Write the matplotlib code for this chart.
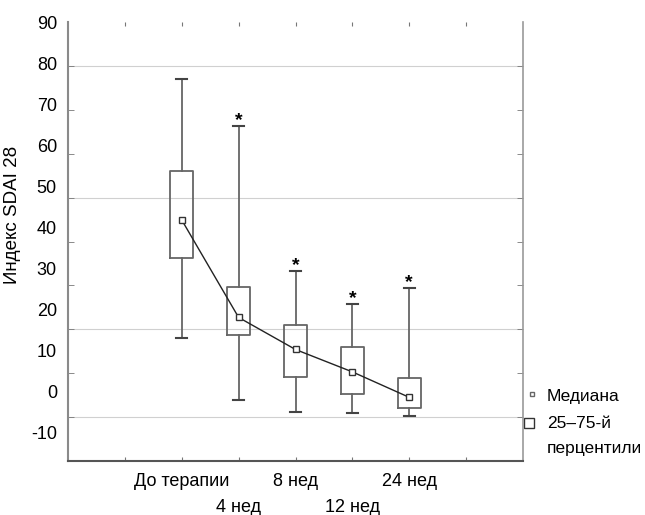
import matplotlib
matplotlib.use('Agg')
import matplotlib.pyplot as plt
import numpy as np

plt.rcParams['font.family'] = ['Liberation Sans', 'DejaVu Sans']

# SDAI 28 per visit
visits  = ['До терапии', '4 нед', '8 нед', '12 нед', '24 нед']
medians = [44.9, 22.7, 15.4, 10.3, 4.5]
q1      = [36.2, 18.7, 9.1, 5.3, 2.0]
q3      = [56.1, 29.7, 21.0, 16.0, 8.8]
wlo     = [18.1, 4.0, 1.2, 1.0, 0.3]
whi     = [77.0, 66.2, 33.3, 25.7, 29.3]
signif  = [False, True, True, True, True]

y_ticks = np.arange(-10, 91, 10)
grid_at = [80, 50, 20, 0]
# printed labels in the source are spaced tighter than the ticks
label_step = 9.34

fs = 13

fig = plt.figure(figsize=(6.45, 5.15), dpi=100)
ax = fig.add_axes([68/645, 1 - 461/515, 455/645, 439/515])

pos = np.arange(len(visits))

for g in grid_at:
    ax.axhline(g, color='#d0d0d0', lw=0.8, zorder=0)

stats = [dict(med=m, q1=a, q3=b, whislo=lo, whishi=hi)
         for m, a, b, lo, hi in zip(medians, q1, q3, wlo, whi)]
ax.bxp(stats, positions=pos, widths=0.4, capwidths=0.2, showfliers=False,
       manage_ticks=False,
       boxprops=dict(color='#666666', lw=1.3),
       whiskerprops=dict(color='#666666', lw=1.3),
       capprops=dict(color='#444444', lw=1.5),
       medianprops=dict(visible=False))

ax.plot(pos, medians, color='#222222', lw=1.0, marker='s', ms=5,
        mfc='white', mec='#333333', mew=1.0, zorder=3)

for i, s in enumerate(signif):
    if s:
        ax.annotate('*', (pos[i], whi[i]), xytext=(0, -2), textcoords='offset points',
                    ha='center', va='bottom', fontsize=14, fontweight='bold')

ax.set_xlim(-2, 6)
ax.set_ylim(-10, 90)

ax.set_xticks(np.arange(-1, 6), [''] + visits + [''], fontsize=fs)
ax.tick_params(axis='x', direction='in', length=3, top=True, bottom=True,
               color='#777777', pad=9)
# stagger every second category label onto a lower row
for i, t in enumerate(ax.xaxis.get_major_ticks()[1:-1]):
    if i % 2 == 1:
        t.set_pad(27)

ax.set_yticks(y_ticks, minor=True)
label_pos = 90 - label_step * np.arange(len(y_ticks))
ax.set_yticks(label_pos, [str(v) for v in y_ticks[::-1]], fontsize=fs)
ax.tick_params(axis='y', which='major', length=0, pad=8, right=False)
ax.tick_params(axis='y', which='minor', direction='in', length=4,
               left=True, right=True, color='#777777')

ax.spines['top'].set_visible(False)
ax.spines['left'].set_color('#8a8a8a')
ax.spines['left'].set_linewidth(1.5)
ax.spines['bottom'].set_color('#555555')
ax.spines['bottom'].set_linewidth(1.5)
ax.spines['right'].set_color('#999999')
ax.spines['right'].set_linewidth(1.2)

fig.text(13/645, 1 - 215/515, 'Индекс SDAI 28', rotation=90,
         ha='center', va='center', fontsize=13.5)

# legend drawn by hand, outside the frame
ax.plot([532/645], [1 - 394/515], marker='s', ms=3, mfc='white', mec='#666666',
        transform=fig.transFigure, clip_on=False)
ax.plot([529/645], [1 - 423/515], marker='s', ms=7, mfc='white', mec='#333333',
        transform=fig.transFigure, clip_on=False)
fig.text(547/645, 1 - 397/515, 'Медиана', va='center', ha='left', fontsize=12.5)
fig.text(547/645, 1 - 423/515, '25–75-й', va='center', ha='left', fontsize=12.5)
fig.text(547/645, 1 - 449/515, 'перцентили', va='center', ha='left', fontsize=12.5)

fig.savefig('out.png', dpi=100)
